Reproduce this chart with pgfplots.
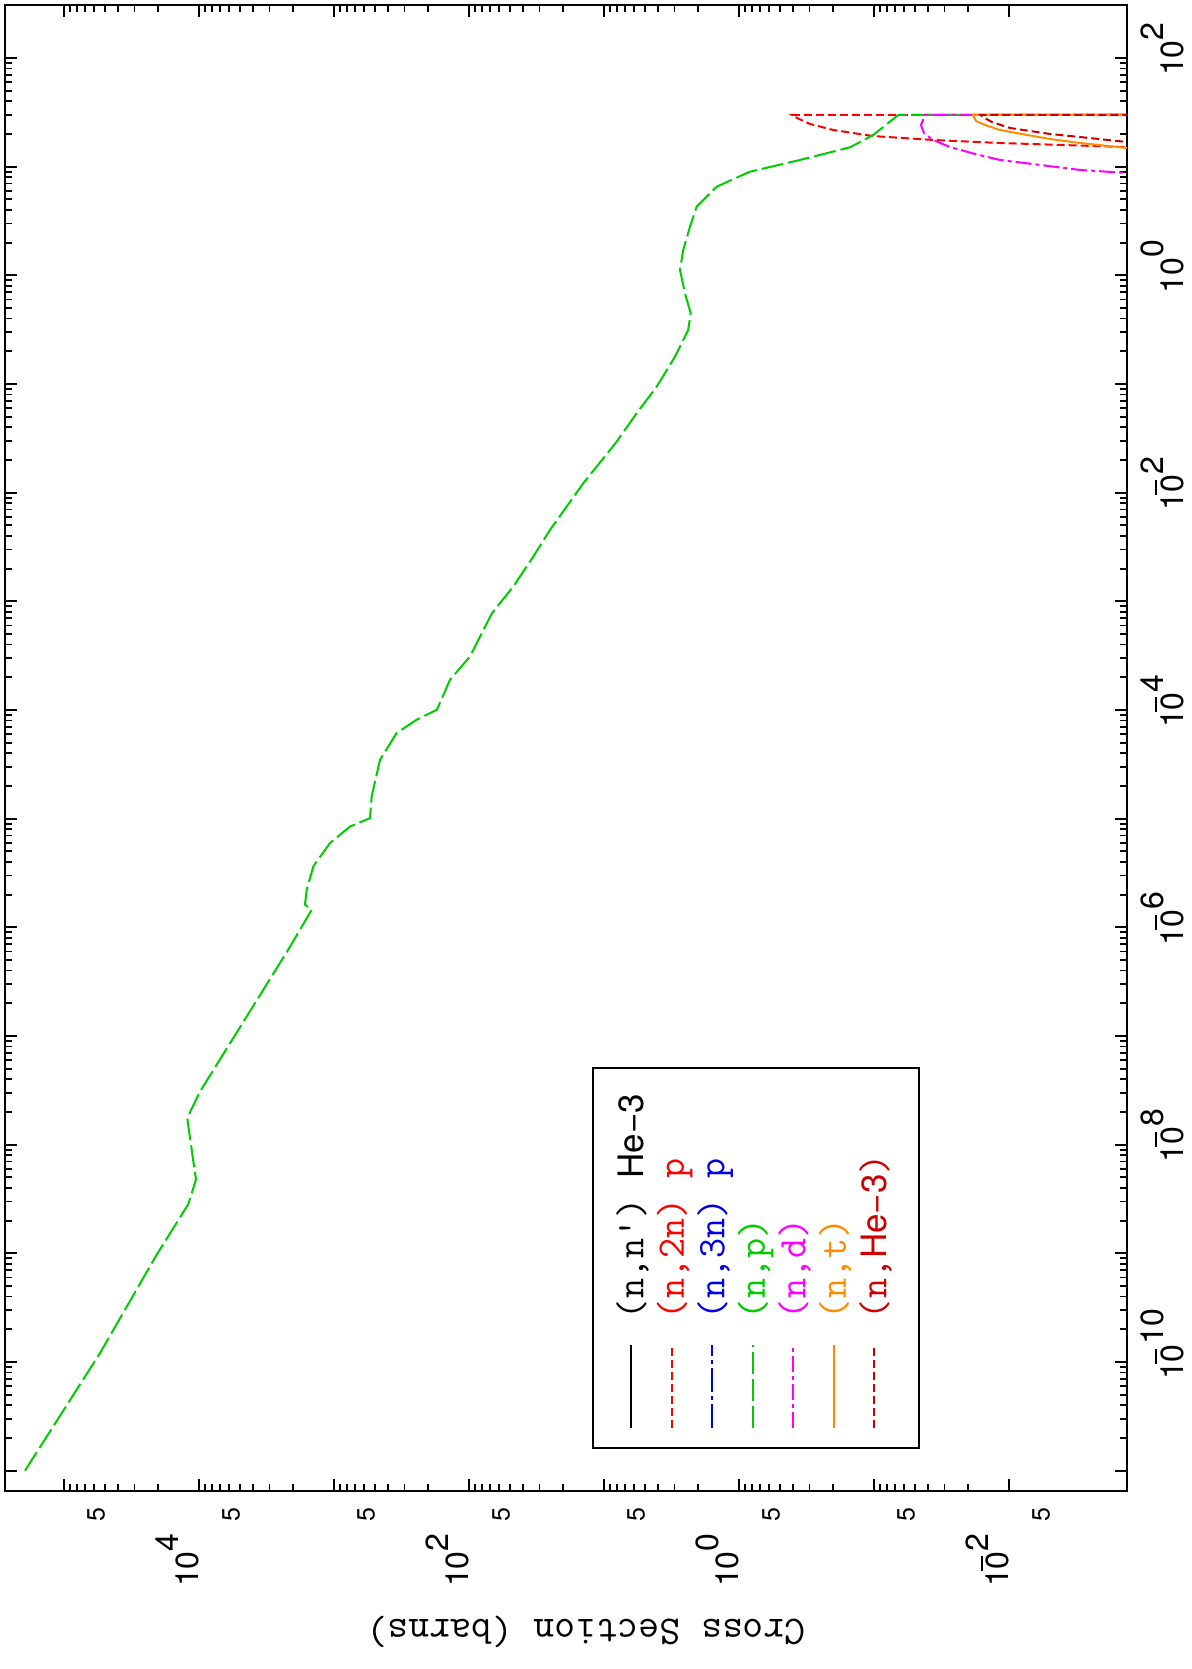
\documentclass[border=0pt]{standalone}
\usepackage{fontspec}
\usepackage{graphicx}
\usepackage{pgfplots}
\pgfplotsset{compat=1.18}
\newfontfamily\hel{TeX Gyre Heros}
\definecolor{cgreen}{RGB}{0,205,0}
\definecolor{cred}{RGB}{255,0,0}
\definecolor{cblue}{RGB}{0,0,230}
\definecolor{cmag}{RGB}{255,0,255}
\definecolor{corange}{RGB}{255,140,0}
\definecolor{cdred}{RGB}{205,0,0}
\newcommand{\tfont}{\fontsize{16}{18}\selectfont\hel}
\newcommand{\negbar}{\llap{\raisebox{13pt}{\rule{7.5pt}{0.9pt}}\kern2.5pt}}
\newcommand{\xp}[1]{{\tfont 10\rlap{\raisebox{10pt}{#1}}}}
\newcommand{\xn}[1]{{\tfont 10\rlap{\negbar\raisebox{10pt}{#1}}}}
\newcommand{\yp}[1]{{\tfont 10\raisebox{10pt}{#1}\kern13pt}}
\newcommand{\yn}[1]{{\tfont 10\negbar\raisebox{10pt}{#1}\kern13pt}}
\newcommand{\fv}{{\fontsize{12.5}{14}\selectfont\hel 5}}
\newcommand{\hethree}{{\fontsize{17.5}{19}\selectfont\hel He−3}}
\begin{document}
\rotatebox{90}{%
\begin{tikzpicture}
\useasboundingbox (-89pt,-32pt) rectangle (745.5pt,563.5pt);
\begin{axis}[
  at={(0pt,0pt)}, anchor=south west,
  scale only axis, width=743pt, height=561pt,
  xmode=log, ymode=log,
  xmin=6.5e-12, xmax=307.6, ymin=1.336e-3, ymax=2.735e5,
  xtick={1e-11,1e-10,1e-9,1e-8,1e-7,1e-6,1e-5,1e-4,1e-3,1e-2,1e-1,1,10,100},
  xticklabels={,\xn{10},,\xn{8},,\xn{6},,\xn{4},,\xn{2},,\xp{0},,\xp{2}},
  ytick={1e-2,1e-1,1,10,100,1000,1e4,1e5},
  yticklabels={\yn{2},,\yp{0},,\yp{2},,\yp{4},},
  extra y ticks={5e-3,5e-2,0.5,5,50,500,5000,5e4},
  extra y tick labels={\fv,\fv,\fv,\fv,\fv,\fv,\fv,\fv},
  extra y tick style={tick style={draw=none}},
  xticklabel style={anchor=base, inner sep=0pt, yshift=-28pt},
  yticklabel style={anchor=base east, inner sep=0pt, xshift=-8pt},
  major tick length=6pt, minor tick length=3.5pt,
  tick style={black, line width=0.9pt},
  axis line style={line width=1.3pt},
  tick align=inside,
  ylabel={Cross Section (barns)},
  ylabel style={at={(axis description cs:-0.0949,0.482)}, anchor=center, font=\fontsize{20.3}{22}\selectfont\ttfamily},
  legend style={at={(axis description cs:0.0283,0.4768)}, anchor=north west, draw=black, line width=0.9pt, fill=white,
    inner xsep=9.5pt, inner ysep=11.75pt, row sep=2.25pt, column sep=12.5pt,
    font=\fontsize{19.5}{21}\selectfont\ttfamily,
    nodes={inner sep=0pt, text height=13.5pt, text depth=4.5pt, anchor=base west}},
  legend cell align=left,
  legend image code/.code={\draw[#1] (0pt,6pt) -- (41.5pt,6pt);},
]
\addlegendimage{black, solid, line width=1pt}
\addlegendentry{\makebox[116pt][l]{(n,n') \hethree}}

\addplot[cred, line width=1pt, dash pattern=on 4pt off 2pt] coordinates {
(14.62,5.0e-4) (15.17,1.358e-3) (16.52,0.01167) (17.62,0.03656) (19.14,0.1016)
(21.78,0.2014) (24.72,0.2979) (28.05,0.3715) (29.92,0.4046) (29.92,1e-6)};
\addlegendentry{\textcolor{cred}{(n,2n) p}}

\addplot[cblue, line width=1pt, dash pattern=on 12pt off 2pt on 2pt off 2pt] coordinates {
(29.51,3.16e-4) (29.92,2.642e-3) (29.92,1e-6)};
\addlegendentry{\textcolor{cblue}{(n,3n) p}}

\addplot[cgreen, line width=1pt, dash pattern=on 11pt off 2.5pt] coordinates {
(1e-11,1.945e5) (1.208e-10,5.41e4) (9.73e-10,2.056e4) (2.838e-9,1.199e4)
(4.786e-9,1.052e4) (7.762e-9,1.114e4) (1.758e-8,1.222e4) (3.076e-8,9840)
(6.223e-7,2183) (1.452e-6,1462)
(1.614e-6,1641) (2.218e-6,1592) (3.639e-6,1422) (5.957e-6,1072)
(8.472e-6,760.3) (1.012e-5,540.8) (1.600e-5,526.0) (3.483e-5,456.0)
(6.138e-5,343.6) (8.128e-5,244.3) (1.005e-4,173.4) (1.159e-4,164.1)
(1.897e-4,138.4) (3.105e-4,98.4) (7.780e-4,67.6) (1.368e-3,47.0)
(2.582e-3,33.4) (4.550e-3,25.1) (1.222e-2,14.22) (2.951e-2,8.05)
(5.383e-2,5.73) (9.46e-2,4.07) (0.1786,2.979) (0.3148,2.377)
(0.4477,2.280) (0.6839,2.512) (1.122,2.735) (1.714,2.588)
(2.805,2.307) (4.285,2.056) (6.546,1.462) (8.995,0.8299)
(11.53,0.3532) (15.07,0.1507) (19.59,0.1012) (29.92,0.0661) (29.92,1e-6)};
\addlegendentry{\textcolor{cgreen}{(n,p)}}

\addplot[cmag, line width=1pt, dash pattern=on 8pt off 2pt on 2pt off 2pt] coordinates {
(8.511,6.31e-4) (8.750,1.337e-3) (9.333,2.979e-3) (10.38,5.888e-3) (11.53,0.01167)
(13.09,0.01786) (15.17,0.02735) (17.62,0.03656) (20.42,0.04266) (24.21,0.04487)
(29.92,0.04188) (29.92,1e-6)};
\addlegendentry{\textcolor{cmag}{(n,d)}}

\addplot[corange, line width=1pt, solid] coordinates {
(14.45,6.31e-4) (14.86,1.337e-3) (16.52,2.979e-3) (17.99,4.966e-3) (19.59,7.362e-3)
(21.78,0.01167) (24.21,0.01507) (26.36,0.01754) (29.92,0.01849) (29.92,1e-6)};
\addlegendentry{\textcolor{corange}{(n,t)}}

\addplot[cdred, line width=1pt, dash pattern=on 4pt off 2pt] coordinates {
(16.41,6.31e-4) (16.87,1.337e-3) (18.75,2.979e-3) (20.0,4.966e-3) (22.70,9.84e-3)
(25.76,0.01337) (28.64,0.01560) (29.92,0.01622) (29.92,1e-6)};
\addlegendentry{\textcolor{cdred}{(n,\hethree)}}
\end{axis}
\end{tikzpicture}}
\end{document}
